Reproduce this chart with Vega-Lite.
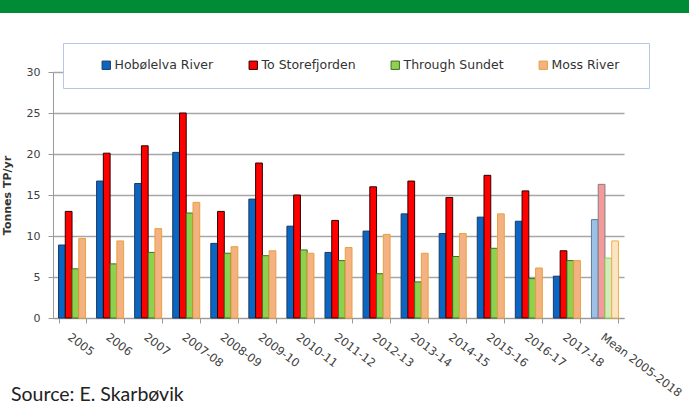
{
  "$schema": "https://vega.github.io/schema/vega-lite/v6.json",
  "padding": 0,
  "background": "white",
  "spacing": 53,
  "config": {
    "view": {"stroke": null},
    "font": "DejaVu Sans"
  },
  "title": {
    "text": "Source: E. Skarbøvik",
    "orient": "bottom",
    "anchor": "start",
    "font": "Lato",
    "fontSize": 19.5,
    "fontWeight": "normal",
    "color": "#222222",
    "dx": 11,
    "offset": -13
  },
  "vconcat": [
    {
      "width": 689,
      "height": 13,
      "view": {"fill": "#008b36", "stroke": null},
      "data": {"values": []},
      "mark": "rect",
      "encoding": {}
    },
    {
      "spacing": 0,
      "hconcat": [
        {
          "width": 1,
          "height": 246,
          "data": {"values": []},
          "mark": "rect",
          "encoding": {}
        },
        {
          "width": 571,
          "height": 246,
          "data": {
            "values": [
              {"year": "2005", "series": "Hobølelva River", "tp": 8.9},
              {"year": "2005", "series": "To Storefjorden", "tp": 13.0},
              {"year": "2005", "series": "Through Sundet", "tp": 6.0},
              {"year": "2005", "series": "Moss River", "tp": 9.7},
              {"year": "2006", "series": "Hobølelva River", "tp": 16.7},
              {"year": "2006", "series": "To Storefjorden", "tp": 20.1},
              {"year": "2006", "series": "Through Sundet", "tp": 6.6},
              {"year": "2006", "series": "Moss River", "tp": 9.4},
              {"year": "2007", "series": "Hobølelva River", "tp": 16.4},
              {"year": "2007", "series": "To Storefjorden", "tp": 21.0},
              {"year": "2007", "series": "Through Sundet", "tp": 8.0},
              {"year": "2007", "series": "Moss River", "tp": 10.9},
              {"year": "2007-08", "series": "Hobølelva River", "tp": 20.2},
              {"year": "2007-08", "series": "To Storefjorden", "tp": 25.0},
              {"year": "2007-08", "series": "Through Sundet", "tp": 12.8},
              {"year": "2007-08", "series": "Moss River", "tp": 14.1},
              {"year": "2008-09", "series": "Hobølelva River", "tp": 9.1},
              {"year": "2008-09", "series": "To Storefjorden", "tp": 13.0},
              {"year": "2008-09", "series": "Through Sundet", "tp": 7.9},
              {"year": "2008-09", "series": "Moss River", "tp": 8.7},
              {"year": "2009-10", "series": "Hobølelva River", "tp": 14.5},
              {"year": "2009-10", "series": "To Storefjorden", "tp": 18.9},
              {"year": "2009-10", "series": "Through Sundet", "tp": 7.6},
              {"year": "2009-10", "series": "Moss River", "tp": 8.2},
              {"year": "2010-11", "series": "Hobølelva River", "tp": 11.2},
              {"year": "2010-11", "series": "To Storefjorden", "tp": 15.0},
              {"year": "2010-11", "series": "Through Sundet", "tp": 8.3},
              {"year": "2010-11", "series": "Moss River", "tp": 7.9},
              {"year": "2011-12", "series": "Hobølelva River", "tp": 8.0},
              {"year": "2011-12", "series": "To Storefjorden", "tp": 11.9},
              {"year": "2011-12", "series": "Through Sundet", "tp": 7.0},
              {"year": "2011-12", "series": "Moss River", "tp": 8.6},
              {"year": "2012-13", "series": "Hobølelva River", "tp": 10.6},
              {"year": "2012-13", "series": "To Storefjorden", "tp": 16.0},
              {"year": "2012-13", "series": "Through Sundet", "tp": 5.4},
              {"year": "2012-13", "series": "Moss River", "tp": 10.2},
              {"year": "2013-14", "series": "Hobølelva River", "tp": 12.7},
              {"year": "2013-14", "series": "To Storefjorden", "tp": 16.7},
              {"year": "2013-14", "series": "Through Sundet", "tp": 4.4},
              {"year": "2013-14", "series": "Moss River", "tp": 7.9},
              {"year": "2014-15", "series": "Hobølelva River", "tp": 10.3},
              {"year": "2014-15", "series": "To Storefjorden", "tp": 14.7},
              {"year": "2014-15", "series": "Through Sundet", "tp": 7.5},
              {"year": "2014-15", "series": "Moss River", "tp": 10.3},
              {"year": "2015-16", "series": "Hobølelva River", "tp": 12.3},
              {"year": "2015-16", "series": "To Storefjorden", "tp": 17.4},
              {"year": "2015-16", "series": "Through Sundet", "tp": 8.5},
              {"year": "2015-16", "series": "Moss River", "tp": 12.7},
              {"year": "2016-17", "series": "Hobølelva River", "tp": 11.8},
              {"year": "2016-17", "series": "To Storefjorden", "tp": 15.5},
              {"year": "2016-17", "series": "Through Sundet", "tp": 4.8},
              {"year": "2016-17", "series": "Moss River", "tp": 6.1},
              {"year": "2017-18", "series": "Hobølelva River", "tp": 5.1},
              {"year": "2017-18", "series": "To Storefjorden", "tp": 8.2},
              {"year": "2017-18", "series": "Through Sundet", "tp": 7.0},
              {"year": "2017-18", "series": "Moss River", "tp": 7.0},
              {"year": "Mean 2005-2018", "series": "Hobølelva River", "tp": 12.0},
              {"year": "Mean 2005-2018", "series": "To Storefjorden", "tp": 16.3},
              {"year": "Mean 2005-2018", "series": "Through Sundet", "tp": 7.3},
              {"year": "Mean 2005-2018", "series": "Moss River", "tp": 9.4}
            ]
          },
          "mark": {"type": "bar", "strokeWidth": 1},
          "encoding": {
            "x": {
              "field": "year",
              "type": "nominal",
              "sort": null,
              "scale": {"paddingInner": 0.29, "paddingOuter": 0.145},
              "axis": {
                "title": null,
                "labelAngle": 37,
                "labelAlign": "left",
                "labelBaseline": "top",
                "labelPadding": 8,
                "labelFontSize": 11.5,
                "labelColor": "#404040",
                "tickBand": "extent",
                "tickSize": 5,
                "tickColor": "#9a9a9a",
                "domainColor": "#9a9a9a",
                "labelOverlap": false
              }
            },
            "xOffset": {
              "field": "series",
              "type": "nominal",
              "sort": ["Hobølelva River", "To Storefjorden", "Through Sundet", "Moss River"],
              "scale": {"paddingInner": 0, "paddingOuter": 0}
            },
            "y": {
              "field": "tp",
              "type": "quantitative",
              "scale": {"domain": [0, 30]},
              "axis": {
                "title": "Tonnes TP/yr",
                "titleFontSize": 11,
                "titleFontWeight": "bold",
                "titleColor": "#333333",
                "titlePadding": 14,
                "values": [0, 5, 10, 15, 20, 25, 30],
                "labelFontSize": 11,
                "labelColor": "#404040",
                "labelPadding": 8,
                "tickSize": 5,
                "tickColor": "#9a9a9a",
                "domainColor": "#9a9a9a",
                "gridColor": "#a6a6a6",
                "gridWidth": 1.5
              }
            },
            "fill": {
              "field": "series",
              "type": "nominal",
              "scale": {
                "domain": ["Hobølelva River", "To Storefjorden", "Through Sundet", "Moss River"],
                "range": ["#0a66c2", "#ff0000", "#8fd14f", "#f4b183"]
              },
              "condition": [
                {"test": "datum.year === 'Mean 2005-2018' && datum.series === 'Hobølelva River'", "value": "#9cc0e6"},
                {"test": "datum.year === 'Mean 2005-2018' && datum.series === 'To Storefjorden'", "value": "#f59a9a"},
                {"test": "datum.year === 'Mean 2005-2018' && datum.series === 'Through Sundet'", "value": "#d3ebbb"},
                {"test": "datum.year === 'Mean 2005-2018' && datum.series === 'Moss River'", "value": "#fbe4c4"}
              ],
              "legend": {
                "title": " ",
                "titleOrient": "right",
                "titlePadding": 14,
                "orient": "none",
                "legendX": 63,
                "legendY": 43,
                "direction": "horizontal",
                "columns": 4,
                "gridAlign": "none",
                "columnPadding": 12,
                "padding": 16,
                "symbolOffset": 21,
                "symbolType": "square",
                "symbolSize": 70,
                "symbolStrokeWidth": 1,
                "labelFontSize": 12.5,
                "labelColor": "#333333",
                "labelOffset": 2,
                "strokeColor": "#b4c7e7",
                "fillColor": "white"
              }
            },
            "stroke": {
              "field": "series",
              "type": "nominal",
              "scale": {
                "domain": ["Hobølelva River", "To Storefjorden", "Through Sundet", "Moss River"],
                "range": ["#1f3a60", "#300000", "#3f6f22", "#e8a33a"]
              },
              "condition": [
                {"test": "datum.year === 'Mean 2005-2018' && datum.series === 'Hobølelva River'", "value": "#5f7a99"},
                {"test": "datum.year === 'Mean 2005-2018' && datum.series === 'To Storefjorden'", "value": "#808080"},
                {"test": "datum.year === 'Mean 2005-2018' && datum.series === 'Through Sundet'", "value": "#8fd14f"},
                {"test": "datum.year === 'Mean 2005-2018' && datum.series === 'Moss River'", "value": "#f0b040"}
              ]
            }
          }
        }
      ]
    }
  ]
}
